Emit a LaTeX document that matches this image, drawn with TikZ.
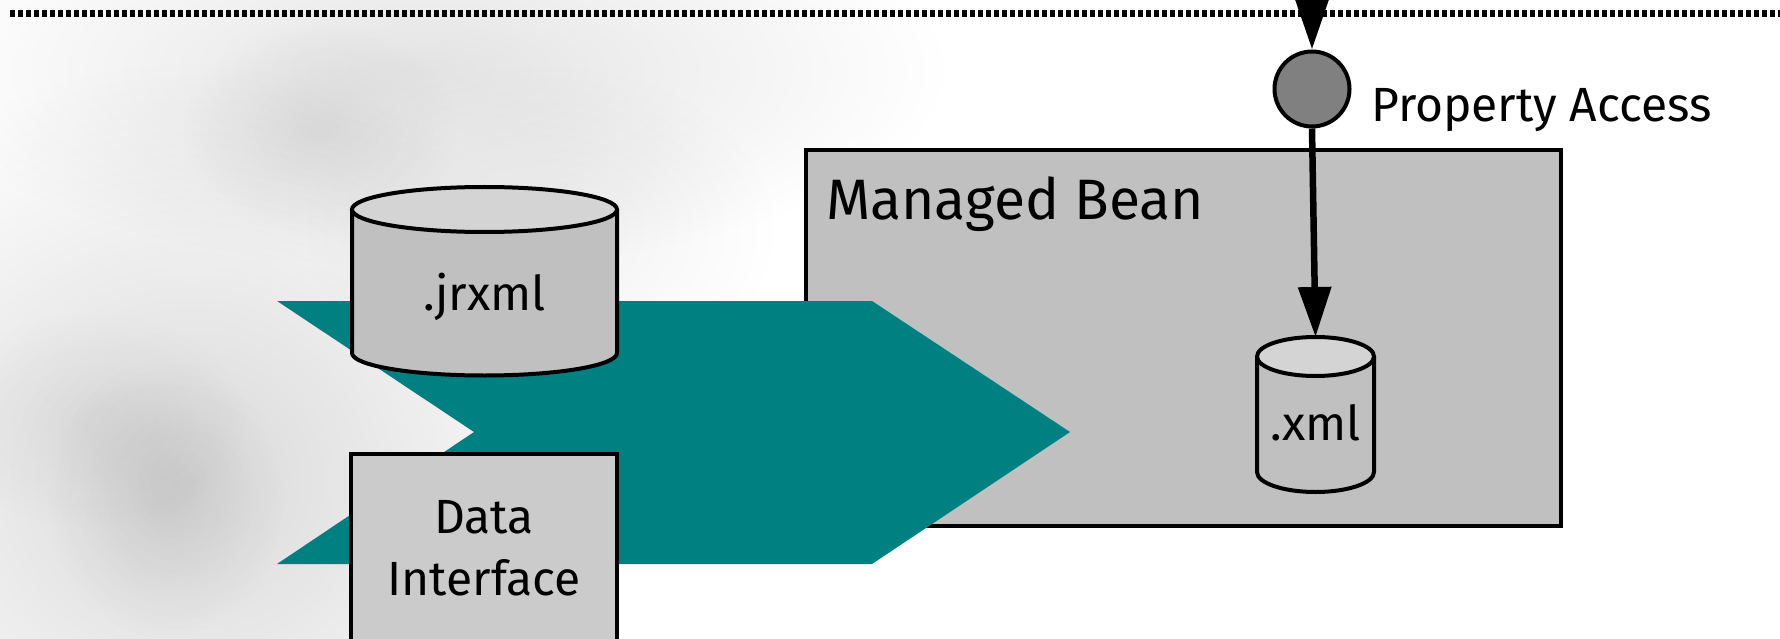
\documentclass[tikz,border=0pt]{standalone}
\usepackage{fontspec}
\setmainfont{Fira Sans}
\usetikzlibrary{arrows.meta,fadings}
\definecolor{tealc}{HTML}{008080}
\definecolor{boxgray}{HTML}{C0C0C0}
\definecolor{topgray}{HTML}{D4D4D4}
\definecolor{digray}{HTML}{CBCBCB}
\definecolor{dotgray}{HTML}{808080}
\tikzfading[name=softblob, inner color=transparent!0, outer color=transparent!100]
\tikzset{
  blob/.style={fill=black, path fading=softblob, opacity=#1},
  outline/.style={draw=black, line width=4pt},
  conn/.style={line width=6.5pt, -{Triangle[length=50pt,width=32pt]}},
  bigtext/.style={inner sep=0pt, font=\fontsize{48}{62}\selectfont},
  hugetext/.style={inner sep=0pt, font=\fontsize{57}{70}\selectfont}
}
\begin{document}
\begin{tikzpicture}[x=1pt,y=-1pt]
\useasboundingbox (0,0) rectangle (1780,639);
\clip (0,0) rectangle (1780,639);
% soft grey background
\fill[blob=0.11] (430,70) ellipse (520 and 200);
\fill[blob=0.15] (190,480) ellipse (440 and 420);
\fill[blob=0.08] (165,500) ellipse (120 and 140);
\fill[blob=0.05] (90,420) ellipse (160 and 110);
\fill[blob=0.07] (320,130) ellipse (140 and 110);
\fill[blob=0.06] (540,230) ellipse (240 and 170);
% dotted rule
\draw[line width=7pt, dash pattern=on 5pt off 3pt] (10,13.5) -- (1780,13.5);
% managed bean box
\node[outline, fill=boxgray, minimum width=755pt, minimum height=376pt, inner sep=0pt] (mb) at (1183.5,338) {};
\node[hugetext, anchor=base west] (mbl) at (826,219) {Managed Bean};
% teal flow arrow
\fill[tealc] (277,301) -- (872,301) -- (1070,432) -- (872,564) -- (277,564) -- (474,432) -- cycle;
% jrxml cylinder
\filldraw[outline, fill=boxgray] (352,209.5) -- (352,353) arc (180:0:132.5 and 22.5) -- (617,209.5);
\filldraw[outline, fill=topgray] (484.5,209.5) ellipse (132.5 and 22.5);
\node[bigtext, anchor=base] (jrxml) at (484.5,310) {.jrxml};
% data interface box
\node[outline, fill=digray, minimum width=266pt, minimum height=260pt, anchor=north, inner sep=0pt] (di) at (484,452) {};
\node[bigtext, align=center, anchor=base] (dil) at (484,595) {Data\\Interface};
% xml cylinder
\filldraw[outline, fill=boxgray] (1257,356.5) -- (1257,472) arc (180:0:58.5 and 20) -- (1374,356.5);
\filldraw[outline, fill=topgray] (1315.5,356.5) ellipse (58.5 and 19.5);
\node[bigtext, anchor=base] (xml) at (1315.5,440) {.xml};
\coordinate (xmltop) at (1315.5,337);
% property access
\node[circle, outline, fill=dotgray, minimum size=75pt, inner sep=0pt] (pa) at (1312,89) {};
\node[bigtext, anchor=base west] (pal) at (1371,122) {Property Access};
\coordinate (topin) at (1312,-25);
\draw[conn] (topin) -- (pa.north);
\draw[conn] (pa.south) -- (xmltop);
\end{tikzpicture}
\end{document}
